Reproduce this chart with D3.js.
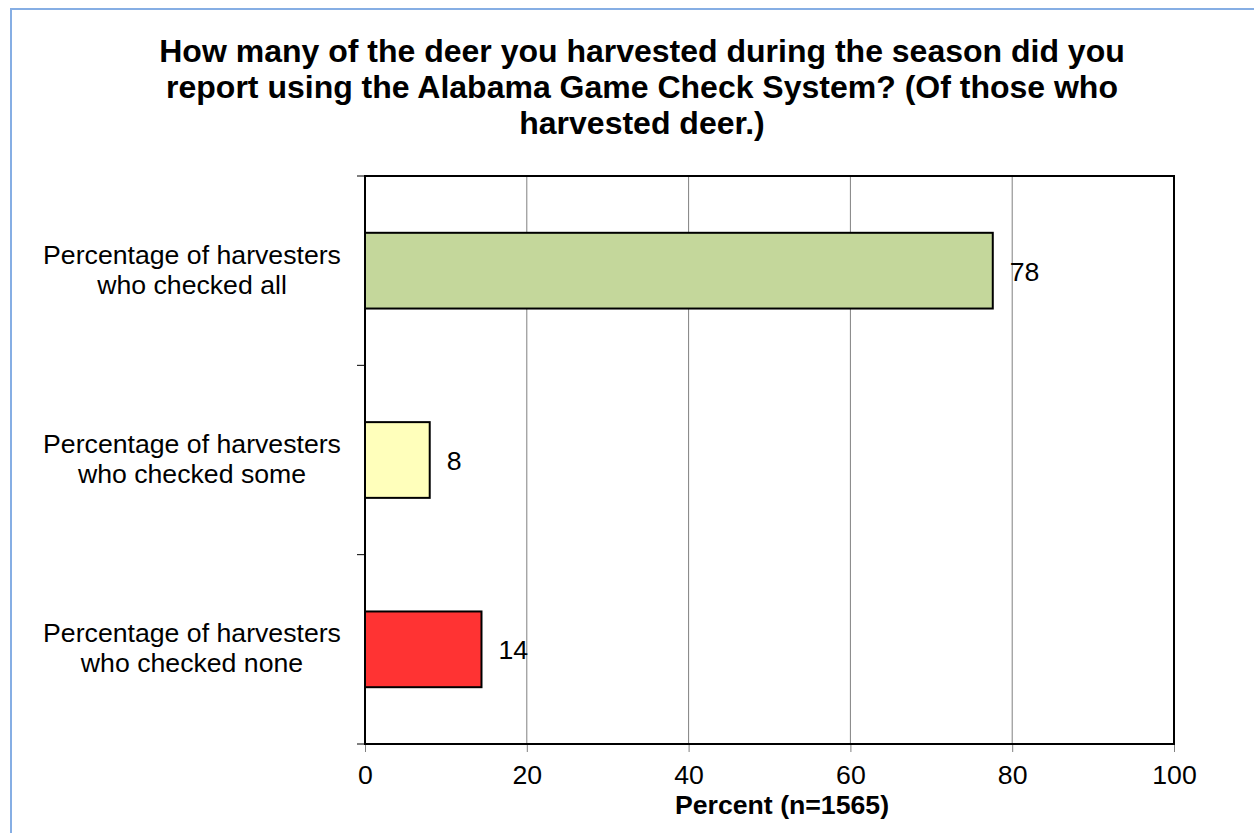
<!DOCTYPE html>
<html>
<head>
<meta charset="utf-8">
<script src="https://d3js.org/d3.v7.min.js"></script>
<style>
  body { margin: 0; background: #fff; }
  text { font-family: "Liberation Sans", Arial, sans-serif; fill: #000; }
</style>
</head>
<body>
<svg id="chart" width="1254" height="833"></svg>
<script>
var titleLines = [
    "How many of the deer you harvested during the season did you",
    "report using the Alabama Game Check System? (Of those who",
    "harvested deer.)"
]
var categories = [
    ["Percentage of harvesters", "who checked all"],
    ["Percentage of harvesters", "who checked some"],
    ["Percentage of harvesters", "who checked none"]
]
var values = [77.6, 8.0, 14.4]
var valueLabels = ["78", "8", "14"]
var barColors = ["#c4d79b", "#ffffbb", "#ff3333"]
var xTicks = [0, 20, 40, 60, 80, 100]
var xTitle = "Percent (n=1565)"

var margin = {top: 176, right: 80, bottom: 89, left: 365}
    , width = 1254 - margin.left - margin.right
    , height = 833 - margin.top - margin.bottom;
var fontSize = "26.67px";

var svg = d3.select("#chart");

// outer frame, runs off the right and bottom edges
svg.append("rect")
    .attr("x", 11).attr("y", 9)
    .attr("width", 1260).attr("height", 840)
    .attr("fill", "none")
    .attr("stroke", "#86aee4")
    .attr("stroke-width", 2);

svg.append("text")
    .attr("x", 642)
    .attr("y", 62)
    .attr("text-anchor", "middle")
    .attr("font-size", "32px")
    .attr("font-weight", "bold")
    .selectAll("tspan")
    .data(titleLines)
    .enter().append("tspan")
    .attr("x", 642)
    .attr("dy", function (d, i) { return i == 0 ? 0 : 36; })
    .text(function (d) { return d; });

var g = svg.append("g")
    .attr("transform", "translate(" + margin.left + "," + margin.top + ")");

var xScale = d3.scaleLinear().domain([0, 100]).range([0, width]);
var yScale = d3.scaleBand().domain(d3.range(categories.length)).range([0, height]).paddingInner(0.6).paddingOuter(0.3);
var bandScale = d3.scaleBand().domain(d3.range(categories.length)).range([0, height]);

// grid lines
g.selectAll("line.grid")
    .data(xTicks.slice(1, -1))
    .enter().append("line")
    .attr("class", "grid")
    .attr("x1", function (d) { return xScale(d); })
    .attr("x2", function (d) { return xScale(d); })
    .attr("y1", 0).attr("y2", height)
    .attr("stroke", "#808080")
    .attr("stroke-width", 1);

// x axis
var xAxis = g.append("g")
    .attr("transform", "translate(0," + height + ")")
    .call(d3.axisBottom(xScale).tickValues(xTicks).tickSize(8).tickPadding(13).tickFormat(d3.format("d")));
xAxis.select(".domain").remove();
xAxis.selectAll("line").attr("stroke", "#808080");
xAxis.selectAll("text").attr("font-size", fontSize).attr("font-family", "Liberation Sans, Arial, sans-serif");

// category ticks on the left
g.selectAll("line.ytick")
    .data(d3.range(categories.length + 1))
    .enter().append("line")
    .attr("class", "ytick")
    .attr("x1", -8).attr("x2", 0)
    .attr("y1", function (d) { return d * bandScale.step(); })
    .attr("y2", function (d) { return d * bandScale.step(); })
    .attr("stroke", "#000")
    .attr("stroke-width", 1);

// bars
g.selectAll("rect.bar")
    .data(values)
    .enter().append("rect")
    .attr("class", "bar")
    .attr("x", xScale(0))
    .attr("y", function (d, i) { return yScale(i); })
    .attr("width", function (d) { return xScale(d) - xScale(0); })
    .attr("height", yScale.bandwidth())
    .attr("fill", function (d, i) { return barColors[i]; })
    .attr("stroke", "#000")
    .attr("stroke-width", 2);

// value labels
g.selectAll("text.val")
    .data(values)
    .enter().append("text")
    .attr("class", "val")
    .attr("x", function (d) { return xScale(d) + 17; })
    .attr("y", function (d, i) { return yScale(i) + yScale.bandwidth() / 2 + 10; })
    .attr("font-size", fontSize)
    .text(function (d, i) { return valueLabels[i]; });

// category labels
categories.forEach(function (lines, i) {
    var cy = bandScale(i) + bandScale.bandwidth() / 2;
    g.append("text")
        .attr("text-anchor", "middle")
        .attr("font-size", fontSize)
        .selectAll("tspan")
        .data(lines)
        .enter().append("tspan")
        .attr("x", -173)
        .attr("y", function (d, j) { return cy - 7 + j * 30; })
        .text(function (d) { return d; });
});

// plot frame
g.append("rect")
    .attr("x", 0).attr("y", 0)
    .attr("width", width).attr("height", height)
    .attr("fill", "none")
    .attr("stroke", "#000")
    .attr("stroke-width", 2);

svg.append("text")
    .attr("x", 782)
    .attr("y", 814)
    .attr("text-anchor", "middle")
    .attr("font-size", fontSize)
    .attr("font-weight", "bold")
    .text(xTitle);
</script>
</body>
</html>
